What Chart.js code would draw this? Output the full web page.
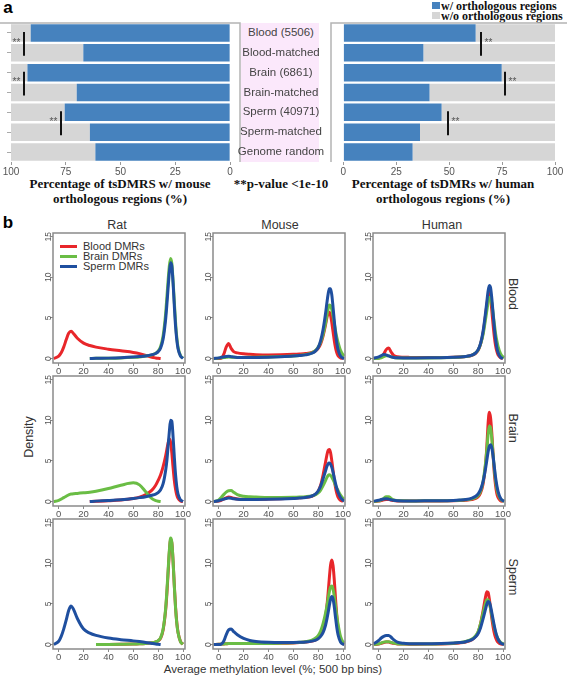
<!DOCTYPE html>
<html>
<head>
<meta charset="utf-8">
<script src="https://cdn.jsdelivr.net/npm/chart.js@4.4.1/dist/chart.umd.min.js"></script>
<style>
  body { margin: 0; background: #fff; }
  #fig { position: relative; width: 567px; height: 676px; overflow: hidden;
         font-family: Arial, "Liberation Sans", sans-serif; color: #333; }
  #fig canvas { position: absolute; }
  .t { position: absolute; white-space: nowrap; line-height: 1; transform: translate(-50%, -50%); }
  .tl { position: absolute; white-space: nowrap; line-height: 1; transform: translate(0, -50%); }
  .ser { font-family: "Liberation Serif", "Times New Roman", serif; font-weight: bold; font-size: 13px; color: #111; }
  .lab { font-size: 12.5px; color: #333; }
  .box { position: absolute; }
</style>
</head>
<body>
<div id="fig">
  <!-- panel a -->
  <div class="t" style="left:8px;top:7px;font-weight:bold;font-size:17px;color:#000">a</div>
  <div class="box" style="left:432px;top:2px;width:8px;height:7px;background:#4682be"></div>
  <div class="box" style="left:432px;top:12px;width:8px;height:7px;background:#d6d6d6"></div>
  <div class="tl ser" style="left:441px;top:5.5px;font-size:12px">w/ orthologous regions</div>
  <div class="tl ser" style="left:441px;top:15.5px;font-size:12px">w/o orthologous regions</div>
  <div id="strip" class="box" style="left:241px;top:23px;width:78px;height:139px;background:#fbe8fb"></div>
  <div class="t ser" style="left:120px;top:183px">Percentage of tsDMRS w/ mouse</div>
  <div class="t ser" style="left:120px;top:198px">orthologous regions (%)</div>
  <div class="t ser" style="left:281px;top:183px">**p-value &lt;1e-10</div>
  <div class="t ser" style="left:443px;top:183px">Percentage of tsDMRs w/ human</div>
  <div class="t ser" style="left:443px;top:198px">orthologous regions (%)</div>

  <!-- panel b -->
  <div class="t" style="left:8px;top:222px;font-weight:bold;font-size:17px;color:#000">b</div>
  <div class="t lab" style="left:117px;top:225px">Rat</div>
  <div class="t lab" style="left:280px;top:225px">Mouse</div>
  <div class="t lab" style="left:442px;top:225px">Human</div>
  <div class="t lab" style="left:513px;top:294px;transform:translate(-50%,-50%) rotate(90deg)">Blood</div>
  <div class="t lab" style="left:513px;top:428px;transform:translate(-50%,-50%) rotate(90deg)">Brain</div>
  <div class="t lab" style="left:513px;top:577px;transform:translate(-50%,-50%) rotate(90deg)">Sperm</div>
  <div class="t lab" style="left:29px;top:437px;transform:translate(-50%,-50%) rotate(-90deg)">Density</div>
  <div class="t lab" style="left:273px;top:670px;font-size:11.5px">Average methylation level (%; 500 bp bins)</div>
  <div id="legend"></div>
</div>

<script>
// ---------- panel a: share of tsDMRs with orthologous regions ----------
const barCategories = ['Blood (5506)', 'Blood-matched', 'Brain (6861)', 'Brain-matched',
                       'Sperm (40971)', 'Sperm-matched', 'Genome random'];
const mousePct = [91, 67, 92.5, 70, 75.5, 64, 61.5];
const humanPct = [62.5, 37.8, 74.8, 40.7, 46.4, 36.2, 32.7];
const barTicks = [0, 25, 50, 75, 100];
const sigRows = [0, 2, 4];            // first row of each tested pair
const mouseSigX = [94, 94, 77];
const humanSigX = [65.2, 76.6, 49.4];

// ---------- panel b: methylation density ----------
const methX = [-4, 0, 2, 4, 6, 8, 10, 12, 15, 20,
               25, 30, 40, 50, 60, 65, 70, 75, 78, 80,
               82, 84, 86, 87, 88, 89, 90, 91, 92, 93, 94, 95, 96, 98, 100, 101];
const methTicks = [0, 20, 40, 60, 80, 100];
const densTicks = [0, 5, 10, 15];
const dmrNames = ['Blood DMRs', 'Brain DMRs', 'Sperm DMRs'];
const dmrColors = ['#e8262a', '#6abd45', '#1f4f9f'];

// Rat
const ratBlood_blood = [0, 0.3, 0.7, 1.4, 2.3, 3.1, 3.35, 3.05, 2.5, 1.9,
  1.6, 1.4, 1.15, 0.95, 0.75, 0.6, 0.38, 0.15, 0.07, 0.03,
  0, null, null, null, null, null, null, null, null, null, null, null, null, null, null, null];
const ratBlood_brain = [null, null, null, null, null, null, null, null, null, null,
  0, 0.02, 0.04, 0.08, 0.15, 0.2, 0.3, 0.45, 0.65, 0.9,
  1.5, 2.8, 5.5, 7.5, 9.6, 11.4, 12.3, 11.7, 9.6, 7.0, 4.5, 2.6, 1.4, 0.35, 0.05, null];
const ratBlood_sperm = [null, null, null, null, null, null, null, null, null, null,
  0, 0.02, 0.05, 0.1, 0.18, 0.24, 0.32, 0.48, 0.62, 0.85,
  1.3, 2.4, 4.8, 6.6, 8.7, 10.6, 11.8, 11.4, 9.3, 6.5, 4.0, 2.3, 1.2, 0.3, 0.02, null];

const ratBrain_blood = [null, null, null, null, null, null, null, null, null, null,
  0, 0.03, 0.1, 0.2, 0.38, 0.55, 0.85, 1.4, 2.0, 2.6,
  3.3, 4.3, 5.6, 6.4, 7.2, 7.7, 7.3, 6.0, 4.2, 2.6, 1.5, 0.8, 0.4, 0.07, 0, null];
const ratBrain_brain = [0, 0.15, 0.3, 0.48, 0.65, 0.82, 0.92, 0.97, 1.0, 1.07,
  1.15, 1.27, 1.6, 2.0, 2.3, 2.05, 1.2, 0.35, 0.12, 0.04,
  0, null, null, null, null, null, null, null, null, null, null, null, null, null, null, null];
const ratBrain_sperm = [null, null, null, null, null, null, null, null, null, null,
  0, 0.05, 0.13, 0.23, 0.38, 0.48, 0.6, 0.78, 0.92, 1.1,
  1.45, 2.2, 3.8, 5.0, 6.8, 8.6, 10.0, 9.9, 8.0, 5.5, 3.3, 1.8, 0.9, 0.2, 0.01, null];

const ratSperm_blood = [null, null, null, null, null, null, null, null, null, null,
  null, 0, 0.01, 0.03, 0.06, 0.09, 0.14, 0.22, 0.32, 0.45,
  0.8, 1.8, 4.2, 6.2, 8.8, 11.3, 12.9, 12.5, 10.3, 7.3, 4.6, 2.7, 1.5, 0.35, 0.05, null];
const ratSperm_brain = [null, null, null, null, null, null, null, null, null, null,
  null, 0, 0.01, 0.03, 0.06, 0.09, 0.14, 0.22, 0.33, 0.48,
  0.85, 1.9, 4.4, 6.5, 9.1, 11.6, 13.1, 12.6, 10.3, 7.2, 4.5, 2.6, 1.45, 0.33, 0.05, null];
const ratSperm_sperm = [0, 0.4, 1.0, 1.9, 3.0, 4.2, 4.75, 4.3, 3.2, 1.9,
  1.4, 1.12, 0.8, 0.6, 0.45, 0.36, 0.26, 0.14, 0.07, 0.03,
  0, null, null, null, null, null, null, null, null, null, null, null, null, null, null, null];

// Mouse
const mouseBlood_blood = [0, 0, 0.02, 0.5, 1.4, 1.85, 1.25, 0.85, 0.7, 0.58,
  0.52, 0.48, 0.45, 0.47, 0.52, 0.56, 0.62, 0.75, 0.95, 1.25,
  1.8, 2.8, 4.2, 5.0, 5.6, 5.7, 5.3, 4.4, 3.3, 2.2, 1.3, 0.7, 0.35, 0.07, 0.01, null];
const mouseBlood_brain = [0, 0.05, 0.08, 0.12, 0.15, 0.18, 0.17, 0.15, 0.14, 0.14,
  0.15, 0.17, 0.2, 0.25, 0.32, 0.38, 0.48, 0.7, 1.0, 1.4,
  2.0, 3.0, 4.4, 5.3, 6.1, 6.6, 6.5, 6.0, 5.2, 4.3, 3.4, 2.6, 2.0, 1.0, 0.45, 0.3];
const mouseBlood_sperm = [0, 0.08, 0.15, 0.2, 0.25, 0.27, 0.23, 0.18, 0.14, 0.12,
  0.12, 0.13, 0.16, 0.22, 0.3, 0.36, 0.45, 0.65, 0.95, 1.35,
  2.2, 3.6, 5.6, 6.8, 7.9, 8.6, 8.6, 7.8, 6.3, 4.6, 3.1, 1.9, 1.1, 0.3, 0.05, 0.02];

const mouseBrain_blood = [0, 0.05, 0.15, 0.3, 0.45, 0.55, 0.5, 0.4, 0.32, 0.28,
  0.27, 0.27, 0.3, 0.35, 0.42, 0.46, 0.52, 0.65, 0.9, 1.25,
  2.0, 3.3, 4.9, 5.7, 6.3, 6.4, 6.0, 5.0, 3.8, 2.6, 1.7, 1.0, 0.55, 0.15, 0.03, null];
const mouseBrain_brain = [0, 0.2, 0.5, 0.85, 1.15, 1.33, 1.35, 1.15, 0.85, 0.65,
  0.58, 0.55, 0.5, 0.5, 0.52, 0.55, 0.6, 0.7, 0.85, 1.05,
  1.4, 1.95, 2.6, 2.95, 3.2, 3.3, 3.2, 3.0, 2.7, 2.35, 2.0, 1.65, 1.35, 0.8, 0.4, 0.3];
const mouseBrain_sperm = [0, 0.1, 0.2, 0.3, 0.38, 0.42, 0.4, 0.33, 0.27, 0.24,
  0.24, 0.25, 0.28, 0.32, 0.38, 0.42, 0.5, 0.68, 0.95, 1.3,
  1.9, 2.8, 3.8, 4.3, 4.65, 4.75, 4.6, 4.2, 3.6, 2.9, 2.2, 1.6, 1.15, 0.5, 0.15, 0.08];

const mouseSperm_blood = [0, 0.02, 0.05, 0.08, 0.1, 0.12, 0.12, 0.12, 0.12, 0.12,
  0.12, 0.12, 0.13, 0.15, 0.2, 0.24, 0.3, 0.42, 0.58, 0.8,
  1.2, 2.0, 3.5, 4.7, 6.3, 8.2, 9.8, 10.4, 9.7, 7.9, 5.6, 3.6, 2.1, 0.6, 0.1, 0.05];
const mouseSperm_brain = [0, 0.02, 0.05, 0.08, 0.1, 0.12, 0.12, 0.12, 0.12, 0.12,
  0.12, 0.13, 0.14, 0.17, 0.22, 0.27, 0.35, 0.55, 0.8, 1.1,
  1.65, 2.6, 3.9, 4.7, 5.6, 6.5, 7.1, 7.2, 6.8, 5.9, 4.7, 3.5, 2.5, 1.0, 0.3, 0.2];
const mouseSperm_sperm = [0, 0, 0.05, 0.4, 1.2, 1.8, 1.9, 1.6, 1.2, 0.75,
  0.5, 0.38, 0.28, 0.25, 0.26, 0.28, 0.32, 0.42, 0.55, 0.72,
  1.0, 1.5, 2.4, 3.1, 3.9, 4.8, 5.6, 5.9, 5.6, 4.6, 3.3, 2.1, 1.2, 0.3, 0.05, 0.02];

// Human
const humanBlood_blood = [0, 0.05, 0.2, 0.55, 1.1, 1.3, 0.8, 0.4, 0.22, 0.16,
  0.14, 0.13, 0.12, 0.13, 0.16, 0.19, 0.25, 0.4, 0.65, 1.0,
  1.8, 3.2, 5.4, 6.6, 7.7, 8.1, 7.4, 5.9, 4.2, 2.7, 1.6, 0.9, 0.45, 0.1, 0.02, null];
const humanBlood_brain = [0, 0.03, 0.1, 0.25, 0.35, 0.33, 0.2, 0.12, 0.08, 0.07,
  0.07, 0.07, 0.08, 0.1, 0.14, 0.17, 0.24, 0.42, 0.7, 1.05,
  1.8, 3.0, 4.9, 5.9, 6.9, 7.5, 7.5, 6.8, 5.6, 4.3, 3.1, 2.2, 1.5, 0.6, 0.2, 0.12];
const humanBlood_sperm = [0.05, 0.2, 0.35, 0.5, 0.45, 0.32, 0.2, 0.14, 0.1, 0.08,
  0.08, 0.08, 0.09, 0.11, 0.15, 0.18, 0.25, 0.42, 0.7, 1.1,
  1.9, 3.4, 5.7, 7.0, 8.3, 9.0, 8.7, 7.4, 5.6, 3.8, 2.4, 1.4, 0.75, 0.15, 0.02, null];

const humanBrain_blood = [0, 0.05, 0.12, 0.2, 0.25, 0.25, 0.18, 0.12, 0.08, 0.06,
  0.06, 0.06, 0.07, 0.08, 0.1, 0.12, 0.16, 0.25, 0.38, 0.6,
  1.1, 2.2, 4.6, 6.8, 9.6, 11.0, 10.3, 8.4, 5.8, 3.5, 2.0, 1.0, 0.5, 0.1, 0.02, null];
const humanBrain_brain = [0, 0.08, 0.2, 0.38, 0.6, 0.6, 0.38, 0.2, 0.12, 0.09,
  0.08, 0.08, 0.09, 0.1, 0.13, 0.16, 0.21, 0.33, 0.5, 0.75,
  1.3, 2.5, 4.8, 6.4, 8.2, 9.3, 9.1, 7.7, 5.8, 4.0, 2.6, 1.6, 0.95, 0.3, 0.08, 0.05];
const humanBrain_sperm = [0.05, 0.15, 0.25, 0.32, 0.35, 0.3, 0.22, 0.15, 0.1, 0.08,
  0.08, 0.08, 0.09, 0.1, 0.14, 0.18, 0.25, 0.42, 0.65, 0.95,
  1.5, 2.5, 4.1, 5.1, 6.1, 6.8, 7.0, 6.6, 5.6, 4.3, 3.0, 2.0, 1.25, 0.4, 0.1, 0.05];

const humanSperm_blood = [0, 0.05, 0.15, 0.25, 0.3, 0.3, 0.22, 0.14, 0.08, 0.05,
  0.04, 0.04, 0.05, 0.08, 0.14, 0.2, 0.32, 0.6, 1.0, 1.5,
  2.6, 4.2, 5.9, 6.5, 6.4, 5.6, 4.4, 3.2, 2.2, 1.4, 0.85, 0.5, 0.28, 0.07, 0.01, null];
const humanSperm_brain = [0, 0.08, 0.2, 0.3, 0.35, 0.35, 0.27, 0.17, 0.1, 0.07,
  0.06, 0.06, 0.07, 0.1, 0.17, 0.24, 0.38, 0.68, 1.1, 1.6,
  2.6, 3.9, 5.1, 5.5, 5.5, 5.1, 4.4, 3.6, 2.8, 2.1, 1.5, 1.05, 0.7, 0.28, 0.1, 0.07];
const humanSperm_sperm = [0.1, 0.5, 0.8, 1.0, 1.1, 1.1, 0.9, 0.6, 0.3, 0.15,
  0.1, 0.09, 0.1, 0.12, 0.18, 0.24, 0.35, 0.6, 0.95, 1.35,
  2.1, 3.2, 4.4, 5.0, 5.3, 5.2, 4.7, 3.9, 3.1, 2.3, 1.6, 1.05, 0.65, 0.2, 0.05, 0.03];

// grid of density panels: rows = tissue, columns = species
const densityGrid = [
  [[ratBlood_blood, ratBlood_brain, ratBlood_sperm],
   [mouseBlood_blood, mouseBlood_brain, mouseBlood_sperm],
   [humanBlood_blood, humanBlood_brain, humanBlood_sperm]],
  [[ratBrain_blood, ratBrain_brain, ratBrain_sperm],
   [mouseBrain_blood, mouseBrain_brain, mouseBrain_sperm],
   [humanBrain_blood, humanBrain_brain, humanBrain_sperm]],
  [[ratSperm_blood, ratSperm_brain, ratSperm_sperm],
   [mouseSperm_blood, mouseSperm_brain, mouseSperm_sperm],
   [humanSperm_blood, humanSperm_brain, humanSperm_sperm]]
];

const FONT = 'Arial, "Liberation Sans", sans-serif';
const barBlue = '#4682be';
const barGray = '#d6d6d6';
const fig = document.getElementById('fig');

function addCanvas(left, top, w, h) {
  const c = document.createElement('canvas');
  c.width = w; c.height = h;
  c.style.left = left + 'px';
  c.style.top = top + 'px';
  fig.appendChild(c);
  return c;
}

// significance brackets (vertical bar + "**")
const sigPlugin = {
  id: 'sig',
  afterDatasetsDraw(chart, args, opts) {
    const { ctx, scales: { x, y } } = chart;
    ctx.save();
    ctx.strokeStyle = '#111';
    ctx.lineWidth = 2;
    ctx.fillStyle = '#555';
    ctx.font = '10px ' + FONT;
    ctx.textAlign = 'center';
    ctx.textBaseline = 'middle';
    opts.xs.forEach((v, k) => {
      const r = sigRows[k];
      const px = Math.round(x.getPixelForValue(v));
      const y0 = y.getPixelForValue(r) - 1;
      const y1 = y.getPixelForValue(r + 1) + 3;
      ctx.beginPath();
      ctx.moveTo(px, y0);
      ctx.lineTo(px, y1);
      ctx.stroke();
      ctx.fillText('**', px + opts.dir * 7.5, (y0 + y1) / 2 - 1);
    });
    ctx.restore();
  }
};

// panel border lines of the bar charts
const barFrame = {
  id: 'barFrame',
  afterDraw(chart, args, opts) {
    const { ctx, chartArea: a } = chart;
    ctx.save();
    ctx.strokeStyle = '#b4b4b4';
    ctx.lineWidth = 1.5;
    ctx.beginPath();
    if (opts.side === 'right') {
      ctx.moveTo(0, a.top); ctx.lineTo(a.right, a.top); ctx.lineTo(a.right, a.bottom);
    } else {
      ctx.moveTo(chart.width, a.top); ctx.lineTo(a.left, a.top); ctx.lineTo(a.left, a.bottom);
    }
    ctx.stroke();
    ctx.restore();
  }
};

function barChart(canvas, values, reversed, sigXs) {
  return new Chart(canvas, {
    type: 'bar',
    data: {
      labels: barCategories,
      datasets: [
        { label: 'w/ orthologous regions', data: values, backgroundColor: barBlue,
          barPercentage: 0.88, categoryPercentage: 1 },
        { label: 'w/o orthologous regions', data: values.map(v => 100 - v), backgroundColor: barGray,
          barPercentage: 0.88, categoryPercentage: 1 }
      ]
    },
    options: {
      indexAxis: 'y',
      responsive: false,
      animation: false,
      layout: { padding: reversed ? { top: 5, right: 1, left: 0, bottom: 0 }
                                  : { top: 5, right: 12, left: 2, bottom: 0 } },
      plugins: {
        legend: { display: false },
        tooltip: { enabled: false },
        sig: { xs: sigXs, dir: reversed ? -1 : 1 },
        barFrame: { side: reversed ? 'right' : 'left' }
      },
      scales: {
        x: {
          stacked: true,
          reverse: reversed,
          min: reversed ? -4.5 : -5.86,
          max: 100,
          afterBuildTicks: s => { s.ticks = barTicks.map(v => ({ value: v })); },
          afterFit: s => { s.height = 18; },
          ticks: { font: { size: 10, family: FONT }, color: '#555', padding: 1, maxRotation: 0 },
          grid: { drawOnChartArea: false, tickLength: 3, color: '#999' },
          border: { display: false }
        },
        y: {
          stacked: true,
          display: reversed,
          afterFit: s => { s.width = 11; },
          ticks: { display: false },
          grid: { drawOnChartArea: false, tickLength: 4, offset: false, color: '#aaa' },
          border: { display: false }
        }
      }
    },
    plugins: [sigPlugin, barFrame]
  });
}

const mouseChart = barChart(addCanvas(0, 18, 241, 162), mousePct, true, mouseSigX);
barChart(addCanvas(318, 18, 249, 162), humanPct, false, humanSigX);

// strip labels placed on the category scale rows
const yScale = mouseChart.scales.y;
barCategories.forEach((name, i) => {
  const d = document.createElement('div');
  d.className = 't';
  d.style.left = '281px';
  d.style.top = (18 + yScale.getPixelForValue(i)) + 'px';
  d.style.fontSize = '11.5px';
  d.style.color = '#444';
  d.textContent = name;
  fig.appendChild(d);
});

// ---------- panel b charts ----------
const frameBox = {
  id: 'frameBox',
  afterDraw(chart) {
    const { ctx, chartArea: a } = chart;
    ctx.save();
    ctx.strokeStyle = '#8a8a8a';
    ctx.lineWidth = 1.5;
    ctx.strokeRect(a.left, a.top, a.right - a.left, a.bottom - a.top);
    ctx.restore();
  }
};

const colLeft = [53, 213, 373];
const rowTop = [233, 376, 519];
const PW = 132, PH = 130, YAX = 24, XAX = 15;

function densityChart(canvas, curves) {
  return new Chart(canvas, {
    type: 'line',
    data: {
      datasets: curves.map((ys, k) => ({
        label: dmrNames[k],
        data: methX.map((x, i) => ({ x: x, y: ys[i] })),
        borderColor: dmrColors[k],
        borderWidth: 3,
        pointRadius: 0,
        fill: false,
        cubicInterpolationMode: 'monotone',
        spanGaps: false,
        order: 2 - k
      }))
    },
    options: {
      responsive: false,
      animation: false,
      layout: { padding: { top: 3, right: 11, left: 0, bottom: 0 } },
      plugins: { legend: { display: false }, tooltip: { enabled: false } },
      scales: {
        x: {
          type: 'linear',
          min: -4.6, max: 101.6,
          afterBuildTicks: s => { s.ticks = methTicks.map(v => ({ value: v })); },
          afterFit: s => { s.height = XAX; },
          ticks: { font: { size: 9.5, family: FONT }, color: '#555', padding: 0, maxRotation: 0 },
          grid: { drawOnChartArea: false, tickLength: 3, color: '#888' },
          border: { display: false }
        },
        y: {
          min: -0.55, max: 15.45,
          afterBuildTicks: s => { s.ticks = densTicks.map(v => ({ value: v })); },
          afterFit: s => { s.width = YAX; },
          ticks: { font: { size: 8.5, family: FONT }, color: '#555', padding: -3,
                   minRotation: 90, maxRotation: 90, crossAlign: 'center' },
          grid: { drawOnChartArea: false, tickLength: 3, color: '#888' },
          border: { display: false }
        }
      }
    },
    plugins: [frameBox]
  });
}

densityGrid.forEach((row, r) => {
  row.forEach((curves, c) => {
    const cv = addCanvas(colLeft[c] - YAX, rowTop[r] - 3, PW + YAX + 11, PH + 3 + XAX);
    densityChart(cv, curves);
  });
});

// legend inside the rat / blood panel
const legend = document.getElementById('legend');
dmrNames.forEach((name, k) => {
  const y = 246 + k * 10;
  const line = document.createElement('div');
  line.className = 'box';
  line.style.cssText = 'left:60px;top:' + (y - 1.5) + 'px;width:17px;height:3px;background:' + dmrColors[k];
  legend.appendChild(line);
  const t = document.createElement('div');
  t.className = 'tl';
  t.style.cssText = 'left:83px;top:' + y + 'px;font-size:11px;color:#333';
  t.textContent = name;
  legend.appendChild(t);
});
</script>
</body>
</html>
